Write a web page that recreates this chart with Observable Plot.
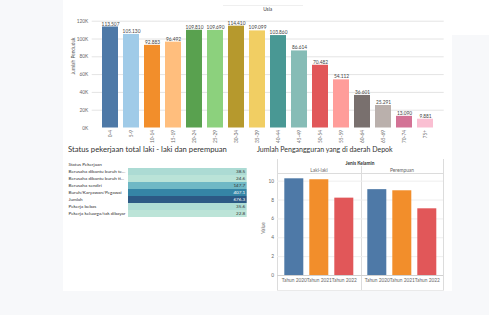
<!DOCTYPE html>
<html>
<head>
<meta charset="utf-8">
<script src="https://cdn.jsdelivr.net/npm/d3@7"></script>
<script src="https://cdn.jsdelivr.net/npm/@observablehq/plot@0.6"></script>
<style>
  body { margin: 0; background: #f7f8fa; font-family: Lato, "Open Sans", sans-serif; }
  #page { position: relative; width: 489px; height: 315px; overflow: hidden; }
  .card { position: absolute; background: #fff; }
  .abs { position: absolute; }
  .title { position: absolute; font-size: 7.7px; color: #333; white-space: nowrap; line-height: 1; }
  .line { position: absolute; background: #dcdcdc; }
  svg { overflow: visible; }
</style>
</head>
<body>
<div id="page">
  <div class="card" style="left:63px;top:0;width:389px;height:291px"></div>
  <div class="card" style="left:452px;top:0;width:37px;height:35px"></div>
  <div id="top" class="abs" style="left:0;top:0"></div>
  <div class="line" style="left:223px;top:5px;width:80px;height:1px;background:#efefef"></div>
  <div class="abs" style="left:227.7px;top:7.2px;width:80px;text-align:center;font-size:4.8px;color:#444;line-height:1">Usia</div>

  <div class="title" style="left:68px;top:146px">Status pekerjaan total laki - laki dan perempuan</div>
  <div id="table" class="abs" style="left:0;top:155px"></div>

  <div class="title" style="left:257px;top:145.5px;font-size:7px">Jumlah Pengangguran yang di daerah Depok</div>
  <div class="line" style="left:276.5px;top:159px;width:1px;height:131px"></div>
  <div class="line" style="left:443px;top:159px;width:1px;height:131px"></div>
  <div class="line" style="left:360.5px;top:166px;width:1px;height:124px"></div>
  <div class="line" style="left:276.5px;top:173px;width:167px;height:1px"></div>
  <div class="line" style="left:276.5px;top:290px;width:167px;height:1px;background:#eaeaea"></div>
  <div class="abs" style="left:276.5px;top:160px;width:167px;text-align:center;font-size:4.8px;font-weight:bold;color:#333">Jenis Kelamin</div>
  <div class="abs" style="left:262.5px;top:228px;font-size:4.8px;color:#555;transform:translate(-50%,-50%) rotate(-90deg)">Value</div>
  <div id="unemp" class="abs" style="left:0;top:155px"></div>
</div>

<script>
// Population of Depok by age group (Usia)
const ageGroups = ["0-4","5-9","10-14","15-19","20-24","25-29","30-34","35-39",
                   "40-44","45-49","50-54","55-59","60-64","65-69","70-74","75+"];
const population = [113507,105130,92883,96492,109810,109690,114410,109099,
                    103860,86614,70482,54112,36601,25291,13090,9881];
const ageColors = ["#4e79a7","#a0cbe8","#f28e2b","#ffbe7d","#59a14f","#8cd17d","#b6992d","#f1ce63",
                   "#499894","#86bcb6","#e15759","#ff9d9a","#79706e","#bab0ac","#d37295","#fabfd2"];
const popTicks = [0,20000,40000,60000,80000,100000,120000];

// Employment status, men and women combined
const statuses = ["Berusaha dibantu buruh tetap/buruh dibayar",
                  "Berusaha dibantu buruh tidak tetap/buruh tidak dibayar",
                  "Berusaha sendiri",
                  "Buruh/Karyawan/Pegawai",
                  "Jumlah",
                  "Pekerja bebas",
                  "Pekerja keluarga/tak dibayar"];
const statusValues = [38.5, 24.6, 147.7, 407.1, 676.3, 35.6, 22.8];
const blueTeal = ["#bce4d8","#a1d5d2","#89c8cc","#72bac6","#59acbe","#419eb6","#358ead","#347ea1","#2f6790","#2c5985"];

// Unemployment in Depok by sex and year
const genders = ["Laki-laki","Perempuan"];
const years = ["Tahun 2020","Tahun 2021","Tahun 2022"];
const unemploymentMale = [10.25, 10.15, 8.2];
const unemploymentFemale = [9.1, 8.98, 7.07];
const yearColors = ["#4e79a7","#f28e2b","#e15759"];
const unempTicks = [0,2,4,6,8,10];

const font = "Lato, 'Open Sans', sans-serif";
const idLocale = d3.formatLocale({decimal: ",", thousands: ".", grouping: [3], currency: ["", ""]});
const fmtInt = idLocale.format(",d");

// ---- Top: population by age ----
const popData = ageGroups.map((age, i) => ({age, value: population[i]}));
const topChart = Plot.plot({
  width: 489, height: 145,
  marginTop: 20.7, marginBottom: 17.5, marginLeft: 91.7, marginRight: 45.3,
  style: {fontFamily: font, fontSize: "4.8px", color: "#666", background: "transparent"},
  x: {domain: ageGroups, padding: 0.24, tickSize: 0, tickRotate: -90, tickPadding: 2, label: null},
  y: {domain: [0, 120000], ticks: popTicks, tickFormat: d => d / 1000 + "K", tickSize: 0, tickPadding: 4, label: null},
  color: {domain: ageGroups, range: ageColors},
  marks: [
    Plot.gridY(popTicks.slice(1), {stroke: "#e4e4e4", strokeOpacity: 1}),
    Plot.barY(popData, {x: "age", y: "value", fill: "age"}),
    Plot.text(popData, {x: "age", y: "value", text: d => fmtInt(d.value), dy: -3, fill: "#444"}),
    Plot.text(["Jumlah Penduduk"], {frameAnchor: "left", rotate: -90, dx: -19, fill: "#555"})
  ]
});
document.getElementById("top").appendChild(topChart);

// ---- Bottom left: employment status table ----
const ctx = document.createElement("canvas").getContext("2d");
ctx.font = "4.6px Lato";
function fitLabel(s, w) {
  if (ctx.measureText(s).width <= w) return s;
  let t = s;
  while (t.length && ctx.measureText(t + "...").width > w) t = t.slice(0, -1);
  return t + "...";
}
const tableData = statuses.map((status, i) => ({status, value: statusValues[i]}));
const tableChart = Plot.plot({
  width: 260, height: 66,
  marginTop: 11.7, marginBottom: 2.8, marginLeft: 128, marginRight: 13.3,
  style: {fontFamily: font, fontSize: "4.6px", color: "#333", background: "transparent"},
  x: {axis: null},
  y: {domain: statuses, axis: null, padding: 0},
  color: {type: "sqrt", domain: [d3.min(statusValues), d3.max(statusValues)], interpolate: d3.interpolateRgbBasis(blueTeal)},
  marks: [
    Plot.cell(tableData, {y: "status", fill: "value"}),
    Plot.text(tableData, {filter: d => d.value < 300, y: "status", text: d => d.value.toFixed(1), frameAnchor: "right", textAnchor: "end", dx: -2, fill: "#333"}),
    Plot.text(tableData, {filter: d => d.value >= 300, y: "status", text: d => d.value.toFixed(1), frameAnchor: "right", textAnchor: "end", dx: -2, fill: "#fff"}),
    Plot.text(tableData, {y: "status", text: d => fitLabel(d.status, 58), frameAnchor: "left", textAnchor: "start", dx: -60, fill: "#333"}),
    Plot.text(["Status Pekerjaan"], {frameAnchor: "top-left", textAnchor: "start", dx: -60, dy: -4.5, fill: "#333"})
  ]
});
document.getElementById("table").appendChild(tableChart);

// ---- Bottom right: unemployment by sex and year ----
const unempData = [
  ...years.map((year, i) => ({gender: genders[0], year, value: unemploymentMale[i]})),
  ...years.map((year, i) => ({gender: genders[1], year, value: unemploymentFemale[i]}))
];
const unempChart = Plot.plot({
  width: 489, height: 135,
  marginTop: 18.3, marginBottom: 15, marginLeft: 276.7, marginRight: 45.7,
  style: {fontFamily: font, fontSize: "4.8px", color: "#666", background: "transparent"},
  facet: {data: unempData, x: "gender"},
  fx: {domain: genders, padding: 0, axis: "top", tickSize: 0, tickPadding: 2, label: null},
  x: {domain: years, padding: 0.25, tickSize: 0, tickPadding: 3, label: null},
  y: {domain: [0, 10.78], ticks: unempTicks, tickSize: 0, tickPadding: 3.5, label: null},
  color: {domain: years, range: yearColors},
  marks: [
    Plot.gridY(unempTicks.slice(1), {stroke: "#eeeeee", strokeOpacity: 1}),
    Plot.barY(unempData, {x: "year", y: "value", fill: "year"}),
    Plot.ruleY([0], {stroke: "#d0d0d0"})
  ]
});
document.getElementById("unemp").appendChild(unempChart);
</script>
</body>
</html>
